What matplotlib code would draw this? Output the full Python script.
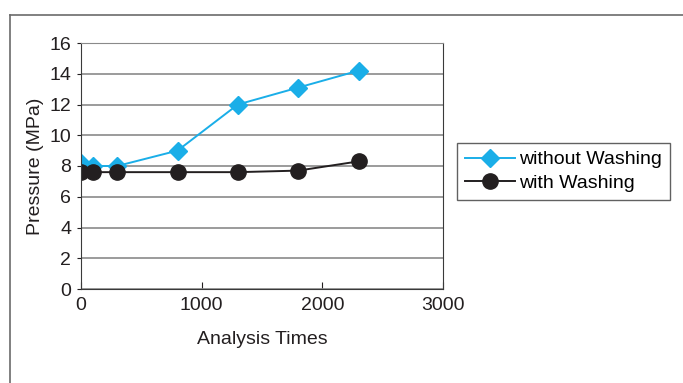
import matplotlib.pyplot as plt
from matplotlib.lines import Line2D

plt.rcParams["font.family"] = ["Liberation Sans", "DejaVu Sans"]

analysis_times = [0, 100, 300, 800, 1300, 1800, 2300]
without_washing = [8.2, 8.0, 8.0, 9.0, 12.0, 13.1, 14.2]
with_washing = [7.6, 7.6, 7.6, 7.6, 7.6, 7.7, 8.3]

x_ticks = [0, 1000, 2000, 3000]
y_ticks = [0, 2, 4, 6, 8, 10, 12, 14, 16]


def main():
    fig = plt.figure(figsize=(6.83, 3.83), dpi=100)
    # outer frame (left and top edges visible)
    fig.add_artist(Line2D([10 / 683, 10 / 683], [0, 1 - 15 / 383],
                          transform=fig.transFigure, color="#6b6b6b", lw=1.2))
    fig.add_artist(Line2D([10 / 683, 1], [1 - 15 / 383, 1 - 15 / 383],
                          transform=fig.transFigure, color="#6b6b6b", lw=1.2))

    ax = fig.add_axes([81 / 683, 94 / 383, 362 / 683, 246 / 383])

    ax.plot(analysis_times, without_washing, color="#1aaee8", lw=1.4,
            marker="D", markersize=9, label="without Washing")
    ax.plot(analysis_times, with_washing, color="#231f20", lw=1.4,
            marker="o", markersize=11, label="with Washing")

    ax.set_xlim(0, 3000)
    ax.set_ylim(0, 16)
    ax.set_xticks(x_ticks)
    ax.set_yticks(y_ticks)
    ax.yaxis.grid(True, color="#8a8a8a", lw=1.2)
    ax.set_axisbelow(True)
    for side in ["left", "bottom", "right"]:
        ax.spines[side].set_color("#3a3a3a")
    ax.spines["top"].set_color("#8a8a8a")
    ax.tick_params(axis="x", direction="in", length=5, labelsize=14,
                   colors="#231f20", pad=6)
    ax.tick_params(axis="y", direction="out", length=3, labelsize=14,
                   colors="#231f20", pad=4)

    ax.set_xlabel("Analysis Times", fontsize=14, color="#231f20", labelpad=12)
    ax.set_ylabel("Pressure (MPa)", fontsize=14, color="#231f20", labelpad=4)

    leg = ax.legend(loc="upper left", bbox_to_anchor=(457 / 683, 1 - 143 / 383),
                    bbox_transform=fig.transFigure, fontsize=14,
                    frameon=True, fancybox=False, edgecolor="#3a3a3a",
                    handlelength=2.6, handletextpad=0.2, borderpad=0.4,
                    labelspacing=0.3, borderaxespad=0)
    leg.get_frame().set_linewidth(1.0)

    fig.savefig("out.png", dpi=100)
    plt.close(fig)


if __name__ == "__main__":
    main()
